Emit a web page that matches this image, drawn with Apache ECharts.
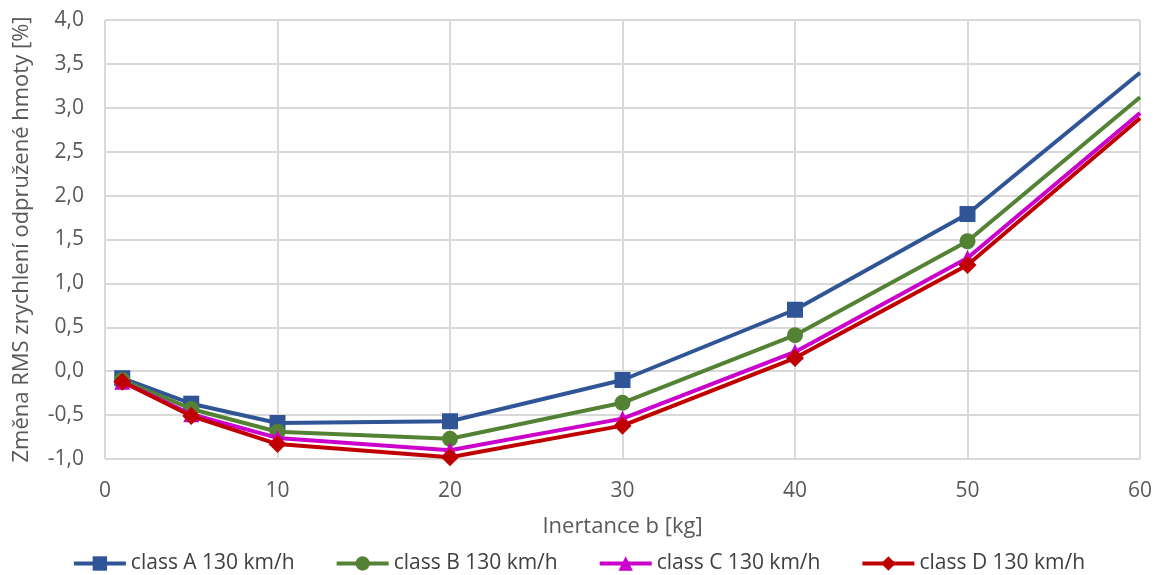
<!DOCTYPE html>
<html>
<head>
<meta charset="utf-8">
<script src="https://cdn.jsdelivr.net/npm/echarts@6/dist/echarts.min.js"></script>
<style>
  html, body { margin: 0; padding: 0; background: #fff; }
  #chart { width: 1157px; height: 575px; }
</style>
</head>
<body>
<div id="chart"></div>
<script>
// Inertance b [kg]
const inertance = [1, 5, 10, 20, 30, 40, 50, 60];

// Change of RMS sprung-mass acceleration [%]
const classA = [-0.08, -0.37, -0.59, -0.57, -0.10, 0.70, 1.79, 3.40];
const classB = [-0.10, -0.43, -0.69, -0.77, -0.36, 0.41, 1.48, 3.12];
const classC = [-0.12, -0.49, -0.76, -0.90, -0.54, 0.22, 1.29, 2.94];
const classD = [-0.12, -0.51, -0.83, -0.98, -0.62, 0.15, 1.21, 2.88];

const seriesNames = ['class A 130 km/h', 'class B 130 km/h', 'class C 130 km/h', 'class D 130 km/h'];
const seriesColors = ['#2F5597', '#548235', '#CC00CC', '#C00000'];
const seriesSymbols = ['rect', 'circle', 'triangle', 'diamond'];
const seriesSymbolSizes = [16, 16, 16, 18];
const seriesValues = [classA, classB, classC, classD];

const font = 'Open Sans';
const fmt = v => v.toFixed(1).replace('.', ',');
const lastX = inertance[inertance.length - 1];

const chart = echarts.init(document.getElementById('chart'));
chart.setOption({
  animation: false,
  textStyle: { fontFamily: font },
  grid: { left: 105, right: 17, top: 20, bottom: 116, containLabel: false },
  legend: {
    bottom: -4,
    left: 'center',
    itemWidth: 52,
    itemHeight: 18,
    itemGap: 40,
    lineStyle: { width: 4 },
    textStyle: { fontFamily: font, fontSize: 21, color: '#404040' },
    data: seriesNames
  },
  xAxis: {
    type: 'value',
    min: 0, max: 60, interval: 10,
    name: 'Inertance b [kg]',
    nameLocation: 'middle',
    nameGap: 57,
    nameTextStyle: { fontFamily: font, fontSize: 22, color: '#595959' },
    axisLine: { show: false },
    axisTick: { show: false },
    axisLabel: { fontFamily: font, fontSize: 21, color: '#595959', margin: 22 },
    splitLine: { show: true, lineStyle: { color: '#d9d9d9', width: 2 } }
  },
  yAxis: {
    type: 'value',
    min: -1, max: 4, interval: 0.5,
    name: 'Změna RMS zrychlení odpružené hmoty [%]',
    nameLocation: 'middle',
    nameGap: 72,
    nameTextStyle: { fontFamily: font, fontSize: 22, color: '#595959' },
    axisLine: { show: false },
    axisTick: { show: false },
    axisLabel: { fontFamily: font, fontSize: 21, color: '#595959', margin: 21, formatter: fmt },
    splitLine: { show: true, lineStyle: { color: '#d9d9d9', width: 2 } }
  },
  series: seriesNames.map((name, i) => ({
    name,
    type: 'line',
    // the point at the right edge of the plot carries no marker
    data: inertance.map((x, j) => x === lastX
      ? { value: [x, seriesValues[i][j]], symbol: 'none' }
      : [x, seriesValues[i][j]]),
    symbol: seriesSymbols[i],
    symbolSize: seriesSymbolSizes[i],
    showAllSymbol: true,
    lineStyle: { color: seriesColors[i], width: 4 },
    itemStyle: { color: seriesColors[i] },
    z: 2 + i
  }))
});
</script>
</body>
</html>
